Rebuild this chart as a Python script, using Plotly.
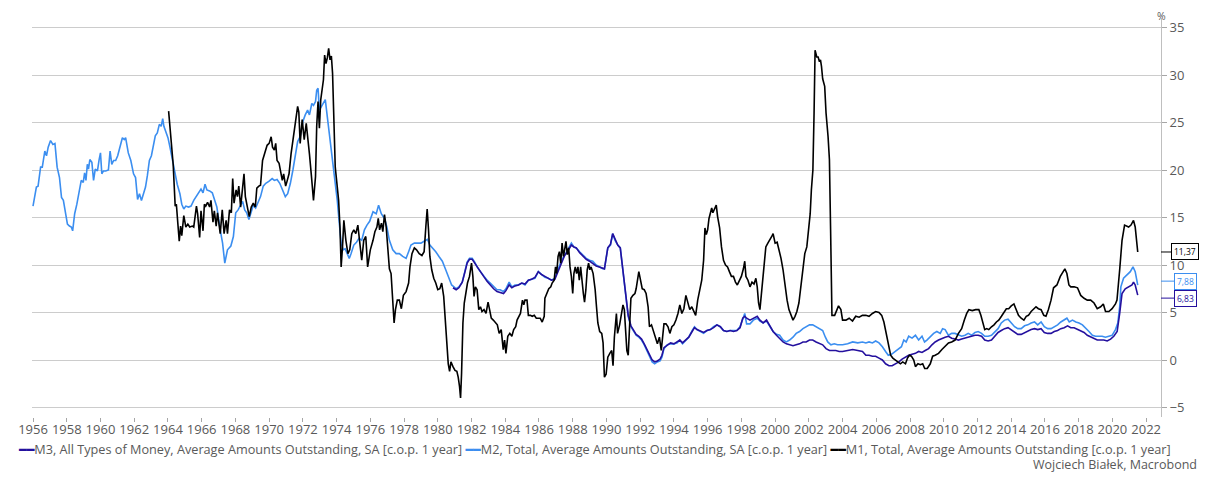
import plotly.graph_objects as go

# ---------------- data ----------------
m2_years = [1956.0,1956.2,1956.3,1956.45,1956.55,1956.7,1956.8,1956.9,1957.04,1957.18,1957.3,1957.43,1957.57,1957.69,1957.8,1957.92,
 1958.04,1958.16,1958.27,1958.35,1958.47,1958.6,1958.75,1958.86,1958.98,1959.06,1959.14,1959.22,1959.29,1959.37,1959.49,1959.59,
 1959.69,1959.82,1959.92,1960.0,1960.08,1960.18,1960.31,1960.47,1960.57,1960.67,1960.78,1960.9,1961.02,1961.16,1961.3,1961.41,
 1961.49,1961.65,1961.8,1961.96,1962.08,1962.2,1962.31,1962.43,1962.55,1962.67,1962.78,1962.9,1963.02,1963.14,1963.25,1963.37,
 1963.49,1963.6,1963.69,1963.76,1963.88,1964.0,1964.12,1964.24,1964.39,1964.55,1964.71,1964.82,1964.94,1965.06,1965.22,1965.37,
 1965.53,1965.69,1965.84,1965.96,1966.08,1966.2,1966.31,1966.47,1966.63,1966.75,1966.9,1967.1,1967.24,1967.37,1967.53,1967.73,
 1967.88,1968.02,1968.16,1968.31,1968.43,1968.55,1968.67,1968.8,1968.9,1969.06,1969.2,1969.33,1969.49,1969.65,1969.8,1969.98,
 1970.18,1970.31,1970.47,1970.63,1970.78,1970.96,1971.1,1971.26,1971.41,1971.55,1971.69,1971.84,1972.0,1972.14,1972.28,1972.39,
 1972.53,1972.63,1972.75,1972.82,1972.9,1972.98,1973.1,1973.22,1973.33,1973.45,1973.57,1973.69,1973.8,1973.92,1974.04,1974.16,
 1974.27,1974.39,1974.51,1974.63,1974.75,1974.86,1975.02,1975.18,1975.33,1975.49,1975.65,1975.8,1975.96,1976.16,1976.35,1976.49,
 1976.65,1976.84,1976.98,1977.13,1977.33,1977.53,1977.72,1977.92,1978.12,1978.27,1978.41,1978.61,1978.8,1979.0,1979.19,1979.39,
 1979.53,1979.68,1979.88,1980.07,1980.27,1980.47,1980.66,1980.82,1980.96,1981.09,1981.25,1981.45,1981.6,1981.74,1981.88,1982.04,
 1982.19,1982.33,1982.53,1982.72,1982.92,1983.11,1983.31,1983.51,1983.7,1983.9,1984.04,1984.23,1984.39,1984.58,1984.78,1984.98,
 1985.17,1985.37,1985.56,1985.76,1985.96,1986.15,1986.35,1986.55,1986.74,1986.94,1987.13,1987.33,1987.52,1987.72,1987.92,1988.07,
 1988.21,1988.41,1988.6,1988.8,1989.0,1989.19,1989.39,1989.58,1989.78,1989.88,1990.08,1990.24,1990.37,1990.51,1990.67,1990.82,
 1990.94,1991.06,1991.18,1991.29,1991.45,1991.61,1991.76,1991.92,1992.08,1992.24,1992.39,1992.55,1992.71,1992.86,1993.02,1993.18,
 1993.29,1993.41,1993.61,1993.8,1994.0,1994.2,1994.35,1994.51,1994.69,1994.88,1995.08,1995.22,1995.37,1995.57,1995.76,1995.96,
 1996.16,1996.35,1996.55,1996.75,1996.94,1997.14,1997.33,1997.53,1997.73,1997.92,1998.08,1998.2,1998.31,1998.51,1998.71,1998.94,
 1999.1,1999.29,1999.49,1999.69,1999.88,2000.08,2000.27,2000.47,2000.67,2000.86,2001.06,2001.25,2001.45,2001.65,2001.84,2002.04,
 2002.23,2002.43,2002.63,2002.82,2002.98,2003.12,2003.31,2003.51,2003.7,2004.0,2004.3,2004.6,2004.9,2005.18,2005.38,2005.57,
 2005.77,2005.96,2006.16,2006.36,2006.55,2006.71,2006.9,2007.1,2007.3,2007.49,2007.63,2007.77,2007.92,2008.12,2008.32,2008.51,
 2008.71,2008.86,2009.0,2009.2,2009.4,2009.59,2009.79,2009.93,2010.08,2010.28,2010.47,2010.67,2010.87,2011.06,2011.26,2011.45,
 2011.65,2011.85,2012.04,2012.24,2012.43,2012.63,2012.83,2013.02,2013.22,2013.41,2013.61,2013.81,2014.0,2014.2,2014.39,2014.59,
 2014.79,2014.98,2015.18,2015.38,2015.57,2015.77,2015.96,2016.16,2016.36,2016.55,2016.75,2016.94,2017.14,2017.3,2017.44,2017.63,
 2017.83,2018.02,2018.22,2018.41,2018.61,2018.81,2019.0,2019.2,2019.39,2019.59,2019.79,2019.98,2020.18,2020.32,2020.43,2020.5,
 2020.66,2020.86,2021.06,2021.22,2021.35,2021.5]
m2_values = [16.2,18.2,18.3,20.3,20.3,22.0,21.5,22.4,23.1,22.7,22.8,20.3,19.2,17.1,16.8,15.4,
 14.3,14.1,14.0,13.6,15.4,16.4,17.8,18.9,18.7,19.7,18.9,20.6,20.1,21.1,20.8,18.9,
 20.1,19.9,21.1,21.8,19.6,19.9,19.9,20.0,22.0,20.6,21.0,21.0,21.5,22.5,23.4,23.2,
 23.4,21.8,21.0,19.6,19.2,16.9,17.5,16.8,17.6,18.2,19.4,21.0,21.5,22.7,23.6,23.9,
 24.8,24.6,25.4,24.6,23.9,23.4,22.4,21.3,19.9,18.5,17.5,16.4,15.9,16.2,16.1,16.2,
 16.8,17.2,17.6,18.0,17.6,18.5,17.9,17.8,17.6,16.9,16.1,13.7,12.3,10.2,11.6,12.0,
 13.0,15.5,15.8,16.3,16.7,15.8,15.5,14.8,15.5,16.3,16.0,16.5,17.2,18.3,18.6,18.8,
 19.1,18.9,19.0,18.6,17.9,17.2,17.5,18.6,20.0,21.7,23.0,23.5,25.1,25.8,26.3,25.8,
 27.0,26.8,27.2,28.4,28.6,26.3,26.7,27.2,27.4,25.6,23.9,22.1,20.3,18.9,16.8,14.4,
 12.3,11.6,11.7,11.2,10.7,11.2,12.1,12.4,12.8,12.6,13.7,14.2,14.6,15.6,15.4,16.3,
 15.4,14.9,14.0,12.6,11.6,11.2,11.2,10.9,10.7,11.4,12.1,12.3,12.3,12.3,12.5,12.7,
 12.1,11.8,11.4,10.9,10.4,9.5,8.6,7.9,7.7,7.5,7.7,8.2,9.3,10.3,10.7,10.7,
 10.3,9.8,9.3,8.8,8.4,8.1,7.7,7.4,7.4,7.2,7.5,8.2,7.7,7.9,7.9,8.1,
 7.9,8.4,8.5,8.6,9.3,9.0,8.7,8.6,8.4,8.6,9.5,10.5,11.0,11.6,12.3,11.9,
 11.8,11.4,11.0,10.7,10.5,10.4,10.0,9.8,9.6,9.6,11.8,12.1,13.3,12.6,12.1,11.8,
 9.8,7.7,5.9,4.6,3.5,3.1,2.6,2.4,2.1,1.6,1.0,0.5,-0.2,-0.4,-0.2,-0.1,
 0.3,1.2,1.6,1.7,1.7,1.8,2.1,1.7,2.1,2.4,3.1,3.5,3.2,3.0,2.8,3.1,
 3.2,3.5,3.7,3.5,3.1,3.0,3.1,3.1,3.1,3.5,4.4,4.9,3.8,3.8,4.2,4.4,
 4.1,3.9,4.1,3.5,3.0,2.7,2.6,2.1,1.9,2.1,2.4,2.8,3.0,3.3,3.5,3.7,
 3.7,3.5,3.3,3.1,2.4,1.9,1.6,1.7,1.6,1.6,1.7,1.9,1.8,1.9,1.8,1.9,
 1.8,2.0,1.8,1.4,0.9,0.5,0.6,0.9,1.2,1.4,2.1,1.9,2.5,2.3,2.6,2.1,
 2.5,1.9,2.1,2.5,2.8,3.0,2.8,3.3,3.2,2.6,2.8,2.8,2.6,2.5,2.6,2.8,
 2.6,2.9,3.0,2.8,2.5,2.5,2.6,3.0,3.3,3.9,4.2,4.3,3.9,3.5,3.3,3.3,
 3.6,3.7,3.9,4.0,3.7,4.0,3.5,3.3,3.3,3.5,3.7,4.0,4.2,4.4,4.0,4.2,
 4.0,3.9,3.7,3.3,3.0,2.6,2.5,2.5,2.5,2.4,2.5,2.6,3.2,3.9,5.6,7.7,
 8.6,8.9,9.3,9.8,9.3,7.88]

m3_years = [1980.9,1981.09,1981.25,1981.45,1981.6,1981.74,1981.88,1982.04,1982.19,1982.33,1982.53,1982.72,1982.92,1983.11,1983.31,1983.51,
 1983.7,1983.9,1984.04,1984.23,1984.39,1984.58,1984.78,1984.98,1985.17,1985.37,1985.56,1985.76,1985.96,1986.15,1986.35,1986.55,
 1986.74,1986.94,1987.13,1987.33,1987.52,1987.72,1987.92,1988.07,1988.21,1988.41,1988.6,1988.8,1989.0,1989.19,1989.39,1989.58,
 1989.78,1989.88,1990.08,1990.24,1990.37,1990.51,1990.67,1990.82,1990.94,1991.06,1991.18,1991.29,1991.45,1991.61,1991.76,1991.92,
 1992.08,1992.24,1992.39,1992.55,1992.71,1992.86,1993.02,1993.18,1993.29,1993.41,1993.61,1993.8,1994.0,1994.2,1994.35,1994.51,
 1994.69,1994.88,1995.08,1995.22,1995.37,1995.57,1995.76,1995.96,1996.16,1996.35,1996.55,1996.75,1996.94,1997.14,1997.33,1997.53,
 1997.73,1997.92,1998.08,1998.2,1998.31,1998.51,1998.71,1998.94,1999.1,1999.29,1999.49,1999.69,1999.88,2000.08,2000.27,2000.47,
 2000.67,2000.86,2001.06,2001.25,2001.45,2001.65,2001.84,2002.04,2002.23,2002.43,2002.63,2002.82,2003.02,2003.22,2003.41,2003.6,
 2003.8,2004.0,2004.3,2004.6,2004.9,2005.18,2005.38,2005.57,2005.77,2005.96,2006.16,2006.36,2006.55,2006.75,2006.94,2007.14,
 2007.34,2007.53,2007.73,2007.92,2008.12,2008.32,2008.51,2008.71,2008.9,2009.1,2009.3,2009.49,2009.69,2009.89,2010.08,2010.28,
 2010.47,2010.67,2010.87,2011.06,2011.26,2011.45,2011.65,2011.85,2012.04,2012.24,2012.43,2012.63,2012.83,2013.02,2013.22,2013.41,
 2013.61,2013.81,2014.0,2014.2,2014.39,2014.59,2014.79,2014.98,2015.18,2015.38,2015.57,2015.77,2015.96,2016.16,2016.36,2016.55,
 2016.75,2016.94,2017.14,2017.34,2017.53,2017.73,2017.93,2018.12,2018.32,2018.51,2018.71,2018.91,2019.1,2019.3,2019.49,2019.69,
 2019.89,2020.08,2020.28,2020.43,2020.57,2020.76,2020.96,2021.16,2021.25,2021.35,2021.5]
m3_values = [7.6,7.4,7.6,8.2,9.2,10.2,10.6,10.6,10.2,9.8,9.3,8.8,8.3,7.9,7.5,7.2,
 7.1,7.0,7.3,7.9,7.6,7.8,7.9,8.1,8.0,8.4,8.5,8.7,9.3,9.0,8.8,8.6,
 8.4,8.5,9.3,10.3,11.0,11.5,12.1,11.9,11.8,11.3,10.9,10.6,10.4,10.2,9.9,9.8,
 9.7,9.6,11.8,12.2,13.3,12.7,12.1,11.8,9.9,7.8,6.0,4.7,3.6,3.2,2.7,2.5,
 2.2,1.7,1.1,0.6,0.0,-0.2,-0.1,0.1,0.5,1.3,1.6,1.8,1.7,1.9,2.1,1.8,
 2.1,2.4,3.0,3.4,3.2,3.0,2.9,3.1,3.2,3.4,3.7,3.5,3.1,3.0,3.1,3.0,
 3.1,3.4,4.4,4.6,4.4,4.2,4.4,4.6,4.2,3.9,4.2,3.5,3.0,2.6,2.3,1.9,
 1.7,1.6,1.5,1.6,1.7,1.9,1.9,2.1,2.1,1.9,1.7,1.6,1.2,1.0,1.0,1.0,
 0.9,0.9,1.0,1.1,1.0,0.9,0.5,0.5,0.4,0.4,0.2,0.0,-0.4,-0.6,-0.6,-0.4,
 -0.2,0.1,0.3,0.5,0.6,0.7,0.9,0.8,1.0,1.2,1.6,1.9,2.1,2.3,2.4,2.5,
 2.3,2.2,2.1,2.2,2.3,2.4,2.5,2.6,2.6,2.5,2.1,2.0,2.1,2.5,2.9,3.1,
 3.3,3.4,3.2,2.9,2.7,2.7,2.9,3.0,3.2,3.3,3.2,3.3,2.9,2.8,2.8,3.0,
 3.1,3.3,3.4,3.6,3.4,3.4,3.2,3.1,2.9,2.6,2.4,2.2,2.1,2.1,2.1,2.0,
 2.2,2.5,3.0,4.9,7.0,7.5,7.7,7.9,8.2,7.9,6.83]

m1_years = [1964.04,1964.16,1964.31,1964.43,1964.5,1964.59,1964.67,1964.75,1964.82,1964.94,1965.06,1965.18,1965.29,1965.45,1965.53,1965.69,
 1965.76,1965.88,1965.96,1966.08,1966.16,1966.24,1966.35,1966.47,1966.55,1966.67,1966.75,1966.86,1966.94,1967.1,1967.22,1967.33,
 1967.45,1967.53,1967.65,1967.76,1967.84,1967.92,1968.04,1968.12,1968.2,1968.31,1968.43,1968.51,1968.59,1968.71,1968.82,1968.94,
 1969.06,1969.18,1969.27,1969.39,1969.49,1969.61,1969.73,1969.88,1970.0,1970.12,1970.2,1970.31,1970.39,1970.47,1970.59,1970.71,
 1970.78,1970.86,1970.98,1971.06,1971.18,1971.3,1971.41,1971.57,1971.69,1971.76,1971.84,1971.96,1972.08,1972.2,1972.31,1972.39,
 1972.51,1972.63,1972.75,1972.82,1972.9,1972.98,1973.06,1973.14,1973.22,1973.29,1973.37,1973.45,1973.53,1973.61,1973.69,1973.76,
 1973.84,1973.92,1974.0,1974.12,1974.2,1974.27,1974.35,1974.43,1974.55,1974.67,1974.78,1974.9,1975.02,1975.14,1975.26,1975.37,
 1975.49,1975.61,1975.73,1975.84,1976.0,1976.16,1976.27,1976.39,1976.47,1976.55,1976.66,1976.74,1976.84,1976.94,1977.04,1977.13,
 1977.23,1977.33,1977.41,1977.49,1977.6,1977.72,1977.84,1977.96,1978.12,1978.27,1978.35,1978.47,1978.61,1978.74,1978.9,1979.06,
 1979.19,1979.29,1979.37,1979.45,1979.53,1979.64,1979.76,1979.88,1980.0,1980.12,1980.23,1980.35,1980.43,1980.55,1980.62,1980.7,
 1980.78,1980.9,1981.02,1981.13,1981.21,1981.29,1981.35,1981.41,1981.49,1981.57,1981.64,1981.76,1981.88,1982.0,1982.08,1982.15,
 1982.23,1982.33,1982.43,1982.53,1982.62,1982.74,1982.86,1982.98,1983.06,1983.17,1983.29,1983.41,1983.53,1983.64,1983.76,1983.88,
 1983.96,1984.04,1984.15,1984.27,1984.39,1984.5,1984.62,1984.7,1984.82,1984.9,1985.02,1985.1,1985.17,1985.29,1985.37,1985.49,
 1985.6,1985.72,1985.84,1985.96,1986.07,1986.19,1986.31,1986.35,1986.47,1986.58,1986.7,1986.78,1986.9,1986.98,1987.05,1987.13,
 1987.21,1987.29,1987.37,1987.45,1987.52,1987.6,1987.68,1987.76,1987.84,1987.92,1988.0,1988.07,1988.15,1988.23,1988.31,1988.39,
 1988.47,1988.55,1988.63,1988.7,1988.78,1988.86,1988.94,1989.01,1989.09,1989.21,1989.33,1989.41,1989.49,1989.6,1989.72,1989.8,
 1989.88,1989.98,1990.08,1990.2,1990.31,1990.39,1990.47,1990.59,1990.66,1990.78,1990.9,1990.98,1991.06,1991.13,1991.21,1991.29,
 1991.37,1991.45,1991.57,1991.69,1991.76,1991.84,1991.92,1992.0,1992.12,1992.24,1992.35,1992.47,1992.55,1992.67,1992.78,1992.9,
 1993.02,1993.14,1993.25,1993.33,1993.41,1993.53,1993.65,1993.76,1993.88,1994.0,1994.12,1994.24,1994.35,1994.47,1994.59,1994.71,
 1994.82,1994.94,1995.06,1995.18,1995.29,1995.41,1995.53,1995.65,1995.76,1995.84,1995.92,1996.0,1996.08,1996.16,1996.24,1996.31,
 1996.43,1996.51,1996.59,1996.71,1996.82,1996.94,1997.06,1997.18,1997.29,1997.41,1997.53,1997.65,1997.76,1997.88,1998.0,1998.12,
 1998.2,1998.27,1998.39,1998.51,1998.63,1998.75,1998.86,1998.94,1999.02,1999.1,1999.22,1999.33,1999.45,1999.57,1999.69,1999.8,
 1999.88,2000.0,2000.12,2000.24,2000.35,2000.47,2000.59,2000.71,2000.82,2000.94,2001.06,2001.18,2001.29,2001.41,2001.53,2001.65,
 2001.76,2001.88,2002.0,2002.08,2002.15,2002.24,2002.31,2002.37,2002.47,2002.55,2002.63,2002.69,2002.75,2002.82,2002.94,2003.02,
 2003.14,2003.22,2003.29,2003.37,2003.53,2003.65,2003.76,2003.9,2004.0,2004.2,2004.39,2004.59,2004.78,2004.98,2005.18,2005.38,
 2005.57,2005.77,2005.96,2006.16,2006.32,2006.45,2006.59,2006.71,2006.85,2006.98,2007.14,2007.3,2007.43,2007.57,2007.73,2007.85,
 2007.96,2008.08,2008.22,2008.32,2008.47,2008.61,2008.75,2008.87,2009.02,2009.2,2009.34,2009.49,2009.69,2009.89,2010.08,2010.28,
 2010.47,2010.67,2010.87,2011.06,2011.22,2011.36,2011.49,2011.69,2011.89,2012.08,2012.2,2012.32,2012.43,2012.55,2012.67,2012.83,
 2012.98,2013.12,2013.26,2013.42,2013.57,2013.71,2013.85,2014.0,2014.16,2014.3,2014.43,2014.59,2014.75,2014.89,2015.02,2015.18,
 2015.33,2015.47,2015.61,2015.77,2015.93,2016.06,2016.2,2016.36,2016.51,2016.71,2016.91,2017.06,2017.18,2017.3,2017.42,2017.53,
 2017.73,2017.93,2018.12,2018.32,2018.51,2018.71,2018.91,2019.1,2019.3,2019.46,2019.59,2019.79,2019.98,2020.18,2020.27,2020.43,
 2020.57,2020.72,2020.96,2021.1,2021.25,2021.35,2021.5]
m1_values = [26.2,23.8,20.6,16.2,16.4,14.3,12.5,14.1,13.1,15.2,14.0,14.3,14.0,14.1,14.0,16.2,
 15.4,12.9,15.7,13.6,16.4,16.2,16.6,16.1,16.8,14.5,15.7,14.1,15.5,13.3,15.8,13.3,
 14.7,13.3,15.8,15.5,19.1,16.5,17.9,17.2,18.3,16.1,18.6,19.6,17.2,16.1,15.1,16.1,
 16.5,16.1,18.1,18.3,18.4,21.0,21.7,22.6,22.8,23.5,22.4,22.1,22.8,21.0,20.7,19.6,
 18.9,19.6,18.3,18.8,19.6,21.7,23.2,24.9,26.7,26.1,22.8,25.3,23.2,24.9,23.2,21.7,
 19.3,16.8,19.3,24.6,27.2,24.4,27.4,28.4,29.5,32.1,31.2,31.8,32.8,31.6,32.0,30.2,
 24.9,20.3,18.9,16.8,14.0,9.8,11.9,14.7,12.6,11.2,11.6,13.3,13.7,13.3,14.2,12.6,
 10.5,12.6,13.0,9.8,11.6,12.6,13.5,14.0,14.9,13.7,14.4,13.5,15.3,14.0,11.9,9.6,
 9.1,6.7,3.9,5.3,6.3,6.3,5.4,6.8,7.2,8.1,9.8,11.2,11.8,11.6,11.2,11.0,
 11.4,14.0,15.9,13.7,10.9,9.5,8.6,8.1,7.4,7.5,8.1,6.7,4.2,1.8,-0.4,-1.2,
 -0.2,-0.7,-1.1,-1.2,-1.8,-2.8,-4.0,-1.4,3.9,6.0,7.0,8.1,8.8,10.2,8.8,6.7,
 7.7,7.4,5.3,5.6,5.1,5.3,4.9,6.1,5.4,4.4,4.2,3.9,3.7,2.8,3.2,1.1,
 2.1,0.7,2.5,2.8,2.5,3.2,3.5,4.2,4.6,4.9,6.3,5.8,6.3,6.3,4.7,4.7,
 4.6,4.7,4.4,4.4,4.4,4.0,4.6,6.5,7.0,7.5,7.7,8.1,8.4,9.8,9.1,10.9,
 11.4,10.2,12.3,10.9,11.6,12.5,11.1,11.8,9.8,8.8,7.0,9.1,9.8,9.1,9.8,8.4,
 9.8,8.1,7.0,6.1,7.4,9.5,10.2,9.5,9.8,9.1,7.4,5.6,3.9,3.0,2.8,1.8,
 -1.8,-1.5,0.3,0.7,1.0,-0.6,2.4,4.9,2.8,3.7,4.9,5.8,5.3,3.1,1.0,0.5,
 3.3,6.5,6.8,7.0,7.5,8.4,9.3,8.6,7.5,7.4,7.0,5.6,3.5,3.7,3.0,2.4,
 1.7,2.4,1.0,2.4,3.8,3.8,3.5,2.8,3.5,3.7,4.2,4.9,5.8,4.9,5.4,6.8,
 6.0,5.3,5.6,5.1,4.7,6.3,7.2,8.4,10.5,13.9,13.2,13.7,14.9,15.5,16.0,15.5,
 16.0,16.3,15.1,13.9,11.9,10.5,10.0,9.8,9.3,8.8,8.8,8.2,7.9,8.4,8.8,9.6,
 10.4,8.8,8.4,7.7,8.2,8.0,8.6,7.7,6.0,5.3,7.4,9.8,11.9,12.3,12.6,13.0,
 13.3,12.3,12.4,11.6,10.7,9.5,7.7,6.3,5.3,4.7,4.2,4.6,5.1,6.0,7.7,9.5,
 11.2,11.9,13.7,15.4,17.9,20.0,26.0,32.6,31.9,31.9,31.4,31.6,30.9,29.6,28.8,26.0,
 23.5,21.1,13.7,4.7,4.7,5.3,5.7,5.3,4.2,4.2,4.4,4.1,4.6,4.5,4.7,4.7,
 4.6,4.9,5.1,5.0,4.7,4.0,2.8,1.4,0.5,0.2,0.0,-0.2,-0.4,-0.2,-0.4,0.2,
 0.5,0.4,0.0,-0.7,-0.4,-0.5,-0.4,-0.9,-0.9,-0.4,0.4,0.5,0.7,1.1,1.4,1.8,
 1.9,2.1,2.8,3.3,4.2,4.9,5.3,5.2,5.3,5.3,4.7,3.9,3.2,3.3,3.2,3.5,
 3.7,4.0,4.2,4.6,5.1,5.4,5.4,5.7,5.9,5.3,4.7,4.4,4.2,4.6,4.7,5.1,
 5.4,5.6,5.4,5.3,4.7,4.6,5.3,6.3,7.6,7.9,8.8,9.3,9.6,9.1,7.9,7.7,
 7.7,7.6,6.8,6.5,6.3,6.3,6.0,5.4,5.6,5.9,5.1,5.1,5.4,5.9,6.3,9.5,
 12.6,14.2,14.0,14.2,14.7,14.0,11.37]

series_names = [
    "M3, All Types of Money, Average Amounts Outstanding, SA [c.o.p. 1 year]",
    "M2, Total, Average Amounts Outstanding, SA [c.o.p. 1 year]",
    "M1, Total, Average Amounts Outstanding [c.o.p. 1 year]",
]
last_labels = ["6,83", "7,88", "11,37"]
x_ticks = list(range(1956, 2023, 2))
y_ticks = list(range(-5, 36, 5))
source_text = "Wojciech Białek, Macrobond"

# ---------------- styling ----------------
C_M3 = "#24109e"
C_M2 = "#3b8ef0"
C_M1 = "#000000"
GREY = "#595959"
FONT = "Open Sans, DejaVu Sans, sans-serif"

fig = go.Figure()
fig.add_trace(go.Scatter(x=m2_years, y=m2_values, mode="lines", name=series_names[1],
                         line=dict(color=C_M2, width=1.6), showlegend=False))
fig.add_trace(go.Scatter(x=m3_years, y=m3_values, mode="lines", name=series_names[0],
                         line=dict(color=C_M3, width=1.6), showlegend=False))
fig.add_trace(go.Scatter(x=m1_years, y=m1_values, mode="lines", name=series_names[2],
                         line=dict(color=C_M1, width=1.6), showlegend=False))

# end-value callouts on the right axis
callouts = [
    (m1_values[-1], last_labels[2], C_M1, 0),
    (m2_values[-1], last_labels[1], C_M2, 4),
    (m3_values[-1], last_labels[0], C_M3, -3),
]
for val, txt, col, shift in callouts:
    fig.add_annotation(x=1, xref="paper", y=val, yref="y", text=txt,
                       showarrow=True, arrowhead=0, arrowwidth=1, arrowcolor=col,
                       ax=24, ay=0, yshift=shift, bgcolor="white", bordercolor=col,
                       borderwidth=1, borderpad=2, font=dict(size=8.5, color=col, family=FONT))

# "%" unit label above the right axis
fig.add_annotation(x=1, xref="paper", y=1, yref="paper", text="%", showarrow=False,
                   xanchor="center", yanchor="top", yshift=10, borderpad=0,
                   font=dict(size=10.5, color=GREY, family=FONT))

# legend (drawn as text with coloured line glyphs)
legend_colors = [C_M3, C_M2, C_M1]
legend_html = " ".join(
    f"<span style='color:{c}; font-family:DejaVu Sans'>━━</span>{n}"
    for c, n in zip(legend_colors, series_names))
fig.add_annotation(x=(590 - 23) / 1138, xref="paper", y=-0.079, yref="paper",
                   text=legend_html, showarrow=False, xanchor="center", yanchor="middle",
                   font=dict(size=12.7, color=GREY, family=FONT))

# source
fig.add_annotation(x=(1199 - 23) / 1138, xref="paper", y=-0.12, yref="paper",
                   text=source_text, showarrow=False, xanchor="right", yanchor="middle",
                   font=dict(size=12.5, color=GREY, family=FONT))

# the page body adds an 8 px margin, so the figure is 8 px smaller and offset
fig.update_layout(
    width=1201, height=469, autosize=False,
    margin=dict(l=15, r=48, t=10, b=60),
    paper_bgcolor="white", plot_bgcolor="white",
    font=dict(family=FONT, color=GREY, size=12),
    showlegend=False,
    xaxis=dict(range=[1955.94, 2022.88], tickvals=x_ticks, ticktext=[str(v) for v in x_ticks],
               showgrid=False, zeroline=False, showline=False,
               ticks="outside", ticklen=4, tickcolor="#a6a6a6", tickwidth=1,
               ticklabelstandoff=-4,
               tickfont=dict(size=13, color=GREY, family=FONT)),
    yaxis=dict(range=[-6.0, 36.0], side="right", tickvals=y_ticks,
               showgrid=True, gridcolor="#cccccc", gridwidth=1, zeroline=False,
               showline=True, linecolor="#bfbfbf", linewidth=1, mirror=False,
               ticks="outside", ticklen=5, tickcolor="#a6a6a6",
               tickfont=dict(size=13, color=GREY, family=FONT)),
)

fig.write_html("out.html")
